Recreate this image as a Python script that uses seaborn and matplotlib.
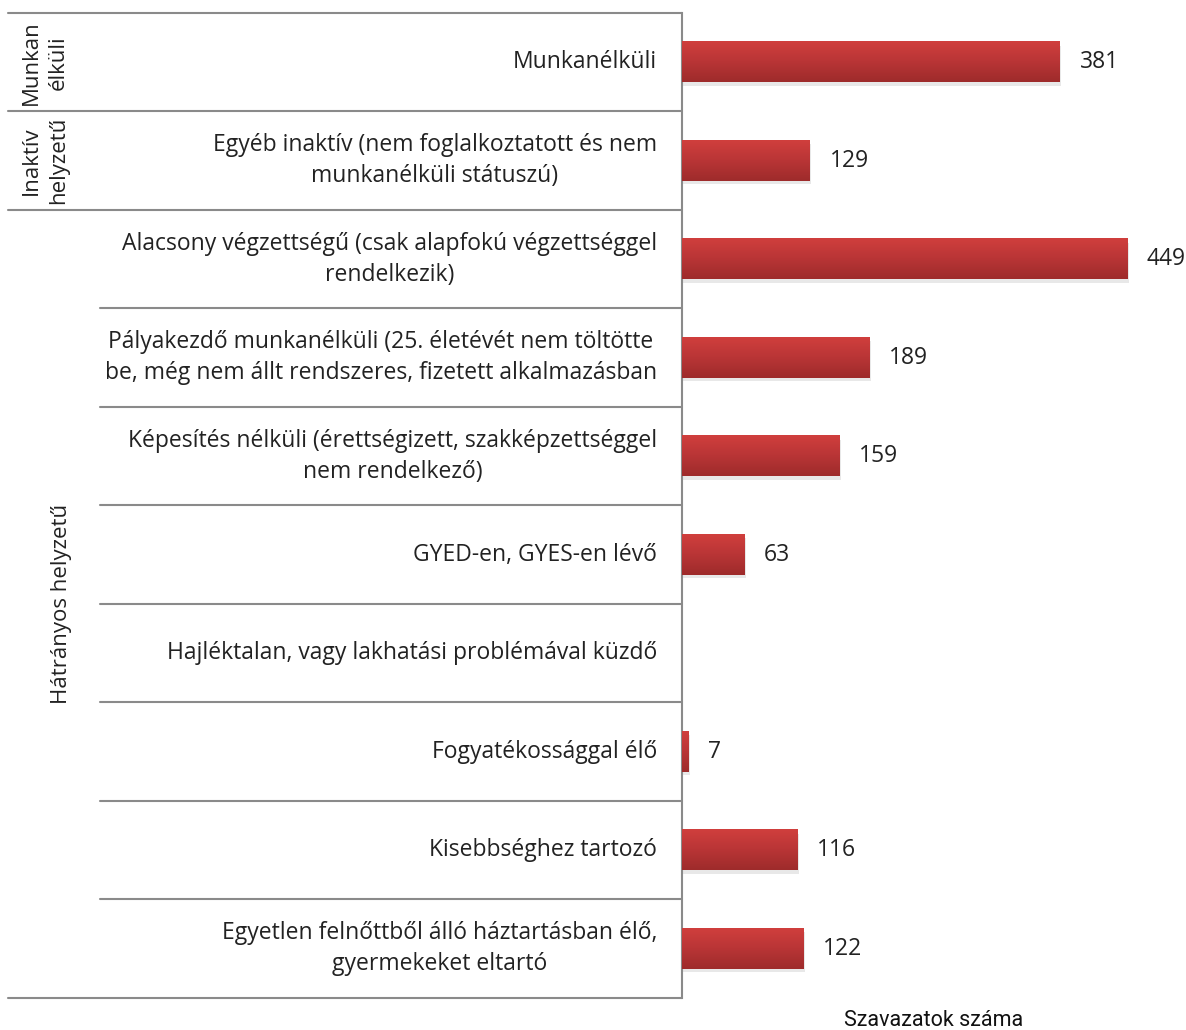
import numpy as np
import pandas as pd
import matplotlib
matplotlib.use("Agg")
import matplotlib.pyplot as plt
import matplotlib.transforms as mtransforms
import seaborn as sns

categories = [
    "Munkanélküli",
    "Egyéb inaktív (nem foglalkoztatott és nem\nmunkanélküli státuszú)",
    "Alacsony végzettségű (csak alapfokú végzettséggel\nrendelkezik)",
    "Pályakezdő munkanélküli (25. életévét nem töltötte\nbe, még nem állt rendszeres, fizetett alkalmazásban",
    "Képesítés nélküli (érettségizett, szakképzettséggel\nnem rendelkező)",
    "GYED-en, GYES-en lévő",
    "Hajléktalan, vagy lakhatási problémával küzdő",
    "Fogyatékossággal élő",
    "Kisebbséghez tartozó",
    "Egyetlen felnőttből álló háztartásban élő,\ngyermekeket eltartó",
]
values = [381, 129, 449, 189, 159, 63, np.nan, 7, 116, 122]
groups = ["Munkan\nélküli", "Inaktív\nhelyzetű", "Hátrányos helyzetű"]
group_rows = [(0, 0), (1, 1), (2, 9)]

sns.set_theme(style="white")
plt.rcParams["font.family"] = ["Open Sans", "DejaVu Sans"]

W, H = 1186, 1030
fig = plt.figure(figsize=(W / 100, H / 100), dpi=100)
left_px, top_px, bottom_px = 682, 13, 998
ax = fig.add_axes([left_px / W, 1 - bottom_px / H, (W - left_px) / W, (bottom_px - top_px) / H])

df = pd.DataFrame({"cat": [f"c{i}" for i in range(len(categories))],
                   "val": pd.Series(values).fillna(0)})
sns.barplot(data=df, y="cat", x="val", orient="h", color="#C0393A", width=0.41, ax=ax, saturation=1)

# gradient fill on bars
grad = np.linspace(0, 1, 64).reshape(-1, 1)
cmap = matplotlib.colors.LinearSegmentedColormap.from_list("g", ["#D03F3D", "#B93536", "#9E2B2B"])
for p in list(ax.patches):
    w = p.get_width()
    if w > 0:
        x0, y0 = p.get_x(), p.get_y()
        h = p.get_height()
        ax.add_patch(plt.Rectangle((x0 + 1.5, y0 + 0.035), w, h, color="#cccccc", alpha=0.45, zorder=1, lw=0))
        ax.imshow(grad, extent=(x0, x0 + w, y0 + h, y0), cmap=cmap, aspect="auto", zorder=3)
    p.set_alpha(0)
ax.set_xlim(0, 508)
ax.set_ylim(len(categories) - 0.5, -0.5)

labels = ["" if not np.isfinite(v) else f"{int(v)}" for v in values]
ax.bar_label(ax.containers[0], labels=labels, padding=14, fontsize=16.5, color="#222222")

for s in ["top", "right", "bottom"]:
    ax.spines[s].set_visible(False)
ax.spines["left"].set_color("#8a8a8a")
ax.spines["left"].set_linewidth(1.5)
ax.set_xticks([])
ax.set_yticks([])
ax.set_ylabel("")
ax.set_xlabel("Szavazatok száma", fontsize=15.5, color="#111111", labelpad=9,
              family=["Liberation Sans Narrow", "Roboto", "DejaVu Sans"])

trans = mtransforms.blended_transform_factory(fig.transFigure, ax.transData)
lc = "#8a8a8a"
group_bounds = [-0.5, 0.5, 1.5, 9.5]
for yb in group_bounds:
    fig.add_artist(plt.Line2D([8 / W, left_px / W], [yb, yb], transform=trans, color=lc, lw=1.5))
for yb in np.arange(2.5, 9.5, 1.0):
    fig.add_artist(plt.Line2D([100 / W, left_px / W], [yb, yb], transform=trans, color=lc, lw=1.5))

for i, c in enumerate(categories):
    fig.text(657 / W, i, c, transform=trans, ha="right", va="center", multialignment="center",
             fontsize=16.5, color="#222222", linespacing=1.4)

gx = [45, 45, 62]
for (g, (a, b)), x in zip(zip(groups, group_rows), gx):
    fig.text(x / W, (a + b) / 2, g, transform=trans, rotation=90, ha="center", va="center",
             multialignment="center", fontsize=16, color="#222222", linespacing=1.35)

fig.savefig("out.png", dpi=100)
